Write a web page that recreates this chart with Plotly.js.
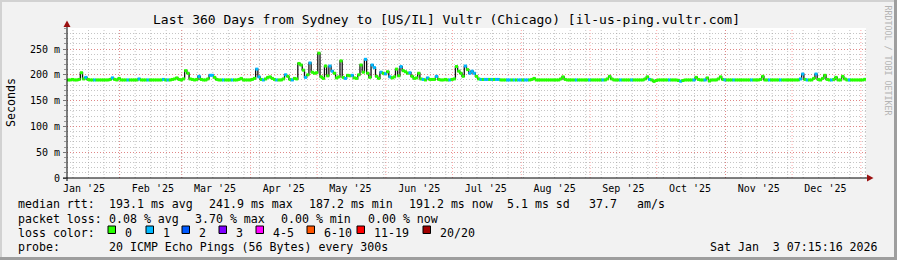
<!DOCTYPE html>
<html>
<head>
<meta charset="utf-8">
<script src="https://cdn.plot.ly/plotly-3.0.1.min.js"></script>
<style>html,body{margin:0;padding:0;background:#f2f2f2;}#chart{width:897px;height:260px;}</style>
</head>
<body>
<div id="chart"></div>
<script>
// ---- data (one value per day, 360 days ending Sat Jan 3 2026 07:15:16) ----
const medianRtt = [
  190,190,191,190,190,191,204,192,195,191,190,190,190,190,190,190,190,190,190,191,
  194,191,190,193,190,190,190,190,190,190,190,190,192,190,190,190,190,190,190,190,
  190,190,190,191,190,190,190,191,192,194,191,190,192,208,203,192,191,190,191,197,
  191,190,190,192,199,199,195,191,190,190,190,190,190,190,190,190,190,191,193,190,
  190,190,190,191,193,211,196,191,190,192,195,196,193,191,190,190,190,192,200,197,
  191,190,193,192,222,219,209,195,200,223,205,203,204,241.9,196,193,217,198,217,207,
  203,194,196,227,195,193,199,198,199,194,193,200,219,205,230,203,195,219,214,197,
  193,205,203,202,206,196,194,196,211,198,216,208,206,203,204,197,193,194,203,192,
  191,190,194,191,191,191,197,191,190,190,191,190,190,191,192,216,207,203,197,217,
  210,203,207,203,197,192,191,191,191,191,191,191,191,191,191,190,190,190,190,190,
  190,190,190,190,190,190,190,190,190,191,193,190,190,190,190,190,190,190,190,190,
  190,190,192,196,191,190,190,190,190,190,190,190,190,190,190,190,190,190,190,190,
  190,190,190,192,197,192,190,190,190,190,190,190,190,190,190,190,190,190,190,190,
  192,196,191,190,187.2,189,190,190,190,190,190,190,190,190,190,189,187.5,189,190,190,
  190,190,190,195,191,190,190,190,194,188,190,190,190,192,196,191,190,190,190,190,
  190,190,190,190,190,190,190,190,190,190,190,190,191,197,190,190,190,190,190,190,
  190,190,190,190,190,190,190,190,190,190,192,201.5,191,190,190,190,193,201.5,191,190,
  193,199,191,190,190,191,195,190,190,197,192,190,190,190,190,190,190,190,190,191.2
];
// packet-loss class per day (index into lossColors)
const lossClass = [
  0,0,0,0,0,0,0,0,1,0,0,0,1,0,0,0,0,0,0,0,
  1,0,0,0,0,0,0,1,0,0,0,0,1,0,0,0,1,0,0,0,
  0,0,0,1,0,1,0,0,0,0,0,0,0,0,0,0,0,0,0,1,
  0,0,0,0,1,1,0,0,0,0,1,0,0,0,1,0,0,0,0,0,
  0,0,0,0,0,1,1,0,1,0,0,0,0,0,1,0,0,0,1,0,
  0,1,0,0,0,0,0,1,0,1,0,0,0,0,0,0,0,0,1,1,
  0,0,0,0,0,1,0,0,1,0,0,0,0,0,1,0,0,1,1,0,
  0,1,0,1,0,1,0,0,0,0,1,0,0,0,1,0,0,0,0,0,
  1,0,1,0,0,0,1,0,0,0,0,0,1,0,0,0,0,0,0,1,
  0,1,1,1,0,0,1,0,1,1,0,1,0,1,1,0,0,0,1,1,
  0,1,0,1,1,0,1,1,0,0,0,0,0,0,0,0,0,0,0,0,
  0,0,0,0,0,0,0,0,0,1,0,0,0,0,0,1,0,0,0,0,
  0,1,0,0,0,0,0,0,0,1,0,0,0,0,1,0,0,0,0,0,
  0,0,1,0,0,0,0,0,0,0,0,1,0,0,0,0,1,0,0,0,
  0,0,1,0,0,0,0,1,0,0,0,0,0,0,0,0,1,0,0,0,
  1,0,0,0,0,0,0,0,1,0,0,0,0,0,0,0,1,0,0,0,
  0,1,0,0,0,0,0,0,0,0,1,1,0,1,0,0,0,1,0,0,
  0,0,0,0,1,0,0,0,0,0,0,0,1,0,0,0,0,0,0,0
];
const lossLabels = ["0","1","2","3","4-5","6-10","11-19","20/20"];
const lossColors = ["#26ff00","#00b8ff","#0059ff","#7e00ff","#ff00ff","#ff5500","#ff0000","#a10000"];
const monthLabels = ["Jan '25","Feb '25","Mar '25","Apr '25","May '25","Jun '25","Jul '25","Aug '25","Sep '25","Oct '25","Nov '25","Dec '25"];
const yTickVals = [0,50,100,150,200,250];
const yTickText = ["0","50 m","100 m","150 m","200 m","250 m"];
const titleText = "Last 360 Days from Sydney to [US/IL] Vultr (Chicago) [il-us-ping.vultr.com]";
const rttStats = ["median rtt:","193.1 ms avg","241.9 ms max","187.2 ms min","191.2 ms now","5.1 ms sd","37.7","am/s"];
const lossStats = ["packet loss:","0.08 % avg","3.70 % max","0.00 % min","0.00 % now"];
const probeText = "20 ICMP Echo Pings (56 Bytes) every 300s";
const dateText = "Sat Jan\u00a0\u00a03 07:15:16 2026";

// ---- geometry helpers ----
const W = 897, H = 260, L = 67, R = 866, T = 28, B = 178;
const px = v => (v - L) / (R - L);
const py = v => (B - v) / (B - T);
const DAY = 86400000;
const startMs = Date.UTC(2025,0,8,7,15,16);
const endMs = Date.UTC(2026,0,3,7,15,16);
const iso = ms => new Date(ms).toISOString().replace('T',' ').replace('Z','');
const xDays = medianRtt.map((_, i) => iso(startMs + (i + 0.5) * DAY));
const FONT = "DejaVu Sans Mono";

const traces = [
  {x: xDays, y: medianRtt, mode: 'lines', line: {color: '#111111', width: 1.3, shape: 'hvh'}, hoverinfo: 'skip'},
  {x: xDays, y: medianRtt, mode: 'markers',
   marker: {symbol: 'square', size: 3, color: lossClass.map(c => lossColors[c]), line: {width: 0}}, hoverinfo: 'skip'}
];

const shapes = [];
// weekly minor grid
for (let t = Date.UTC(2025,0,11); t < endMs; t += 7 * DAY) {
  shapes.push({type: 'line', xref: 'x', yref: 'paper', x0: iso(t), x1: iso(t), y0: 0, y1: 1, layer: 'below',
               line: {color: 'rgba(150,150,150,0.55)', width: 1, dash: '1px,2px'}});
}
// monthly major grid
for (let m = 1; m <= 12; m++) {
  const t = Date.UTC(2025, m, 1);
  shapes.push({type: 'line', xref: 'x', yref: 'paper', x0: iso(t), x1: iso(t), y0: 0, y1: 1, layer: 'below',
               line: {color: 'rgba(255,60,60,0.45)', width: 1, dash: '1px,2px'}});
}
// axes with arrows
shapes.push({type: 'line', xref: 'paper', yref: 'paper', x0: px(63), x1: px(868), y0: py(178), y1: py(178), line: {color: '#000', width: 1}});
shapes.push({type: 'line', xref: 'paper', yref: 'paper', x0: px(67), x1: px(67), y0: py(181), y1: py(25), line: {color: '#000', width: 1}});
shapes.push({type: 'path', xref: 'paper', yref: 'paper',
  path: `M ${px(867)} ${py(174.5)} L ${px(873.5)} ${py(178)} L ${px(867)} ${py(181.5)} Z`, fillcolor: '#9b1010', line: {width: 0}});
shapes.push({type: 'path', xref: 'paper', yref: 'paper',
  path: `M ${px(63.5)} ${py(27)} L ${px(67)} ${py(20.5)} L ${px(70.5)} ${py(27)} Z`, fillcolor: '#9b1010', line: {width: 0}});
// frame shading
shapes.push({type: 'rect', xref: 'paper', yref: 'paper', x0: px(0), x1: px(897), y0: py(0), y1: py(2), fillcolor: '#d2d2d2', line: {width: 0}});
shapes.push({type: 'rect', xref: 'paper', yref: 'paper', x0: px(0), x1: px(2), y0: py(0), y1: py(260), fillcolor: '#d2d2d2', line: {width: 0}});
shapes.push({type: 'rect', xref: 'paper', yref: 'paper', x0: px(894), x1: px(897), y0: py(0), y1: py(260), fillcolor: '#9e9e9e', line: {width: 0}});
shapes.push({type: 'rect', xref: 'paper', yref: 'paper', x0: px(0), x1: px(897), y0: py(257), y1: py(260), fillcolor: '#9e9e9e', line: {width: 0}});

const ann = [];
const txt = (text, x, y, opts = {}) => ann.push(Object.assign({
  text, xref: 'paper', yref: 'paper', x: px(x), y: py(y), showarrow: false,
  xanchor: 'left', yanchor: 'middle', font: {family: FONT, size: 11.6, color: '#000'}}, opts));

txt(titleText, 446.5, 19.5, {xanchor: 'center', font: {family: FONT, size: 13, color: '#000'}});
txt('Seconds', 10.5, 102.5, {xanchor: 'center', textangle: -90});
txt('RRDTOOL / TOBI OETIKER', 887.5, 60, {xanchor: 'center', textangle: 90, font: {family: FONT, size: 8.3, color: '#b4b4b4'}});

const rttX = [16, 107, 207, 307, 407, 505, 587, 635];
rttStats.forEach((s, i) => txt(s, rttX[i], 203.8));
const lossX = [16, 107, 193, 279, 366];
lossStats.forEach((s, i) => txt(s, lossX[i], 218.6));
txt('loss color:', 16, 232.6);
const lossTextX = [123, 161, 197, 234, 271, 322, 372, 438];
lossLabels.forEach((s, i) => {
  txt(s, lossTextX[i], 232.6);
  const bx = lossTextX[i] - 15;
  shapes.push({type: 'rect', xref: 'paper', yref: 'paper', x0: px(bx), x1: px(bx + 7.5), y0: py(226), y1: py(233.5),
               fillcolor: lossColors[i], line: {color: '#000', width: 1}});
});
txt('probe:', 16, 247);
txt(probeText, 107, 247);
txt(dateText, 880, 247, {xanchor: 'right'});

const layout = {
  width: W, height: H,
  margin: {l: L, r: W - R, t: T, b: H - B, pad: 0},
  paper_bgcolor: '#f2f2f2', plot_bgcolor: '#ffffff',
  showlegend: false, hovermode: false,
  font: {family: FONT, size: 10, color: '#000'},
  xaxis: {
    type: 'date', range: [iso(startMs), iso(endMs)],
    tickmode: 'array', tickvals: monthLabels.map((_, m) => iso(Date.UTC(2025, m, 16))), ticktext: monthLabels,
    showgrid: false, zeroline: false, showline: false, ticks: '', ticklabelstandoff: 3,
    tickfont: {family: FONT, size: 10, color: '#000'}
  },
  yaxis: {
    range: [0, 290.7], tickmode: 'array', tickvals: yTickVals, ticktext: yTickText,
    showgrid: true, gridcolor: 'rgba(255,60,60,0.45)', griddash: '1px,2px', gridwidth: 1,
    zeroline: false, showline: false, ticks: 'outside', ticklen: 3, tickcolor: '#777',
    tickfont: {family: FONT, size: 10, color: '#000'}, ticklabelstandoff: 1,
    minor: {dtick: 10, tick0: 0, showgrid: true, gridcolor: 'rgba(150,150,150,0.55)', griddash: '1px,2px',
            ticks: 'outside', ticklen: 2, tickcolor: '#999'}
  },
  shapes, annotations: ann
};

Plotly.newPlot('chart', traces, layout, {displayModeBar: false, staticPlot: true});
</script>
</body>
</html>
